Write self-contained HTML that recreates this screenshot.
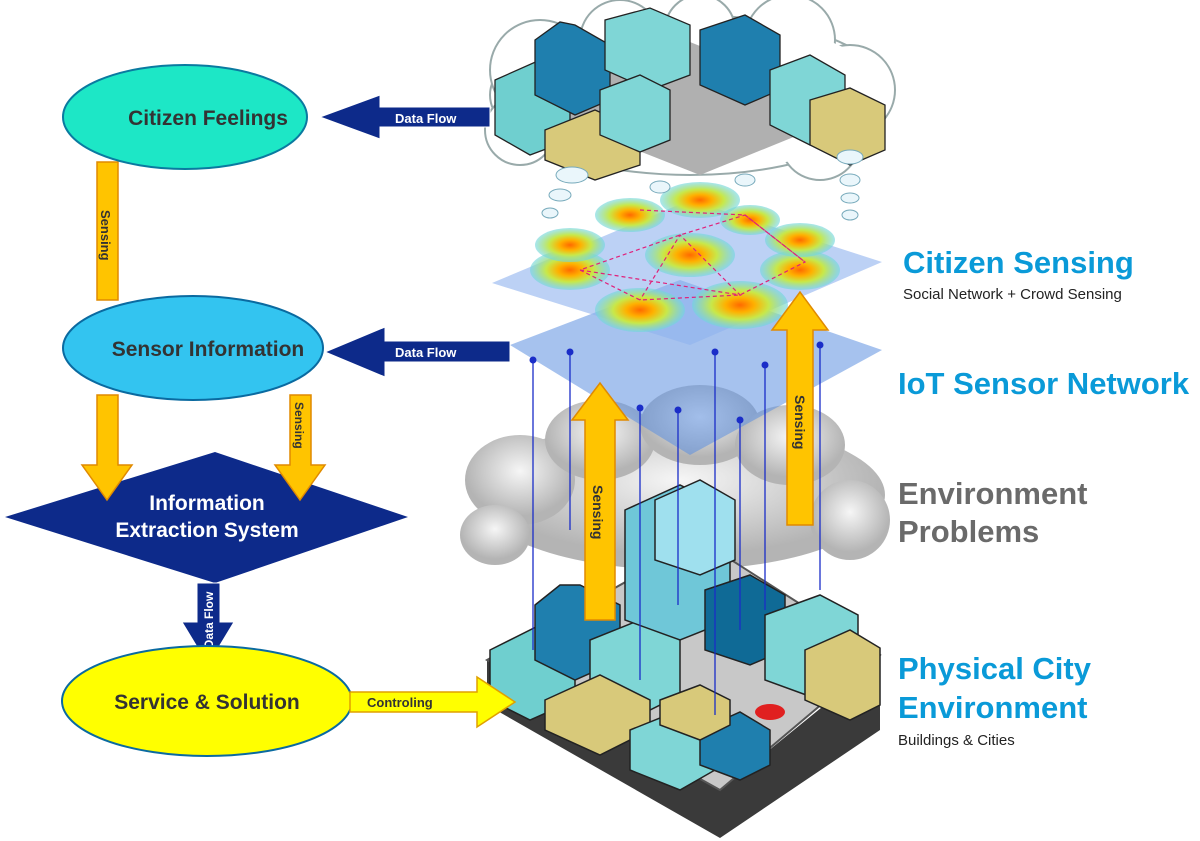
<!DOCTYPE html>
<html><head><meta charset="utf-8"><style>
html,body{margin:0;padding:0;background:#fff;}
svg{display:block;font-family:"Liberation Sans",sans-serif;}
</style></head><body>
<svg width="1200" height="841" viewBox="0 0 1200 841" xmlns="http://www.w3.org/2000/svg">
<defs>
<radialGradient id="heat"><stop offset="0" stop-color="#ff6a00"/><stop offset="0.3" stop-color="#ffb000"/><stop offset="0.6" stop-color="#c8e84a"/><stop offset="1" stop-color="#6fd6e0" stop-opacity="0.6"/></radialGradient>
<radialGradient id="smog" cx="0.5" cy="0.4"><stop offset="0" stop-color="#f6f6f6"/><stop offset="1" stop-color="#b4b4b4"/></radialGradient>
</defs>

<!-- smog cloud -->
<g fill="url(#smog)">
<ellipse cx="680" cy="495" rx="205" ry="75"/>
<ellipse cx="520" cy="480" rx="55" ry="45"/><ellipse cx="600" cy="440" rx="55" ry="40"/><ellipse cx="700" cy="425" rx="60" ry="40"/><ellipse cx="790" cy="445" rx="55" ry="40"/><ellipse cx="850" cy="520" rx="40" ry="40"/><ellipse cx="495" cy="535" rx="35" ry="30"/>
</g>

<!-- bottom city base -->
<polygon points="487,660 487,705 720,838 880,730 880,660 720,790" fill="#3a3a3a"/>
<polygon points="487,660 700,540 880,655 720,790" fill="#c8c8c8" stroke="#555" stroke-width="2"/>
<!-- buildings -->
<g stroke="#222" stroke-width="1.5">
<polygon points="490,650 540,625 575,645 575,700 530,720 490,700" fill="#6fcfcf"/>
<polygon points="535,605 560,585 580,585 620,605 620,660 575,680 535,660" fill="#1f7fae"/>
<polygon points="590,640 640,620 680,640 680,695 640,715 590,695" fill="#7fd6d6"/>
<polygon points="545,700 600,675 650,700 650,730 600,755 545,730" fill="#d8c97a"/>
<polygon points="625,510 680,485 730,510 730,620 680,640 625,620" fill="#6fc7d8"/>
<polygon points="655,500 700,480 735,500 735,560 700,575 655,560" fill="#9fe0ee"/>
<polygon points="705,590 750,575 785,595 785,650 750,665 705,650" fill="#0f6a96"/>
<polygon points="765,615 820,595 858,615 858,680 820,700 765,680" fill="#7fd6d6"/>
<polygon points="805,650 850,630 880,648 880,705 850,720 805,700" fill="#d8c97a"/>
<polygon points="630,730 680,710 715,730 715,770 680,790 630,770" fill="#7fd6d6"/>
<polygon points="700,730 740,712 770,730 770,765 740,780 700,765" fill="#1f7fae"/>
<polygon points="660,700 700,685 730,700 730,725 700,740 660,725" fill="#d8c97a"/>
</g>
<ellipse cx="770" cy="712" rx="15" ry="8" fill="#e02020"/>

<!-- IoT plane -->
<polygon points="510,345 680,280 882,350 690,455" fill="#5c8fe0" fill-opacity="0.55"/>
<!-- citizen plane -->
<polygon points="492,283 690,200 882,262 690,345" fill="#8fb3ee" fill-opacity="0.6"/>

<!-- heat spots -->
<g>
<ellipse cx="640" cy="310" rx="45" ry="22" fill="url(#heat)"/>
<ellipse cx="740" cy="305" rx="48" ry="24" fill="url(#heat)"/>
<ellipse cx="570" cy="270" rx="40" ry="20" fill="url(#heat)"/>
<ellipse cx="690" cy="255" rx="45" ry="22" fill="url(#heat)"/>
<ellipse cx="800" cy="270" rx="40" ry="20" fill="url(#heat)"/>
<ellipse cx="800" cy="240" rx="35" ry="17" fill="url(#heat)"/>
<ellipse cx="570" cy="245" rx="35" ry="17" fill="url(#heat)"/>
<ellipse cx="630" cy="215" rx="35" ry="17" fill="url(#heat)"/>
<ellipse cx="700" cy="200" rx="40" ry="18" fill="url(#heat)"/>
<ellipse cx="750" cy="220" rx="30" ry="15" fill="url(#heat)"/>
</g>
<g stroke="#e0207a" stroke-width="1.2" stroke-dasharray="4,3" fill="none">
<polyline points="580,270 640,300 740,295 805,262 745,215 680,235 580,270"/>
<polyline points="580,270 740,295 680,235 640,300"/><polyline points="640,210 745,215 805,262"/>
</g>

<!-- vertical sensor lines -->
<g stroke="#1a2dc8" stroke-width="1.3">
<line x1="533" y1="360" x2="533" y2="650"/><line x1="570" y1="352" x2="570" y2="530"/>
<line x1="640" y1="408" x2="640" y2="680"/><line x1="678" y1="410" x2="678" y2="605"/>
<line x1="715" y1="352" x2="715" y2="715"/><line x1="765" y1="365" x2="765" y2="610"/>
<line x1="820" y1="345" x2="820" y2="590"/><line x1="740" y1="420" x2="740" y2="630"/>
</g>
<g fill="#1a2dc8">
<circle cx="533" cy="360" r="3.5"/><circle cx="570" cy="352" r="3.5"/><circle cx="640" cy="408" r="3.5"/><circle cx="678" cy="410" r="3.5"/><circle cx="715" cy="352" r="3.5"/><circle cx="765" cy="365" r="3.5"/><circle cx="820" cy="345" r="3.5"/><circle cx="740" cy="420" r="3.5"/>
</g>

<!-- top cloud city -->
<g fill="#fff" stroke="#9aa" stroke-width="2">
<ellipse cx="690" cy="95" rx="200" ry="80"/>
<circle cx="540" cy="70" r="50"/><circle cx="620" cy="40" r="40"/><circle cx="700" cy="30" r="35"/><circle cx="790" cy="40" r="45"/><circle cx="850" cy="90" r="45"/><circle cx="820" cy="140" r="40"/><circle cx="520" cy="130" r="35"/>
</g>
<ellipse cx="690" cy="95" rx="195" ry="77" fill="#fff"/>
<polygon points="510,100 660,30 860,110 700,175" fill="#b0b0b0"/>
<g stroke="#222" stroke-width="1.3">
<polygon points="495,80 540,60 570,80 570,140 530,155 495,135" fill="#6fcfcf"/>
<polygon points="535,40 560,22 575,25 610,45 610,100 575,115 535,95" fill="#1f7fae"/>
<polygon points="605,20 650,8 690,25 690,75 650,90 605,70" fill="#7fd6d6"/>
<polygon points="700,30 745,15 780,35 780,90 745,105 700,85" fill="#1f7fae"/>
<polygon points="770,70 810,55 845,75 845,130 810,145 770,125" fill="#7fd6d6"/>
<polygon points="810,100 850,88 885,105 885,150 850,165 810,145" fill="#d8c97a"/>
<polygon points="545,130 595,110 640,130 640,165 595,180 545,160" fill="#d8c97a"/>
<polygon points="600,90 640,75 670,90 670,140 640,152 600,135" fill="#7fd6d6"/>
</g>
<g fill="#eaf6fb" stroke="#7ab" stroke-width="1">
<ellipse cx="572" cy="175" rx="16" ry="8"/><ellipse cx="560" cy="195" rx="11" ry="6"/><ellipse cx="550" cy="213" rx="8" ry="5"/>
<ellipse cx="850" cy="157" rx="13" ry="7"/><ellipse cx="850" cy="180" rx="10" ry="6"/><ellipse cx="850" cy="198" rx="9" ry="5"/><ellipse cx="850" cy="215" rx="8" ry="5"/>
<ellipse cx="660" cy="187" rx="10" ry="6"/><ellipse cx="745" cy="180" rx="10" ry="6"/>
</g>

<!-- big yellow sensing arrows right -->
<polygon points="585,620 585,420 572,420 600,383 628,420 615,420 615,620" fill="#ffc400" stroke="#e08a00" stroke-width="1.5"/>
<text transform="translate(593,485) rotate(90)" font-size="14" font-weight="bold" fill="#333">Sensing</text>
<polygon points="787,525 787,330 772,330 800,292 828,330 813,330 813,525" fill="#ffc400" stroke="#e08a00" stroke-width="1.5"/>
<text transform="translate(795,395) rotate(90)" font-size="14" font-weight="bold" fill="#333">Sensing</text>

<!-- left flow -->
<polygon points="97,162 118,162 118,300 97,300" fill="#ffc400" stroke="#e08a00" stroke-width="1.5"/>
<text transform="translate(101,210) rotate(90)" font-size="13" font-weight="bold" fill="#333">Sensing</text>

<ellipse cx="185" cy="117" rx="122" ry="52" fill="#1de7c6" stroke="#0a7aa0" stroke-width="2"/>
<text x="208" y="125" font-size="21" font-weight="bold" fill="#333" text-anchor="middle">Citizen Feelings</text>

<ellipse cx="193" cy="348" rx="130" ry="52" fill="#33c4f0" stroke="#0a6aa0" stroke-width="2"/>
<text x="208" y="356" font-size="21" font-weight="bold" fill="#333" text-anchor="middle">Sensor Information</text>

<polygon points="5,517 215,452 408,517 215,583" fill="#0d2a8a"/>
<polygon points="97,395 118,395 118,465 132,465 107,500 82,465 97,465" fill="#ffc400" stroke="#e08a00" stroke-width="1.5"/>
<polygon points="290,395 311,395 311,465 325,465 300,500 275,465 290,465" fill="#ffc400" stroke="#e08a00" stroke-width="1.5"/>
<text transform="translate(295,402) rotate(90)" font-size="12" font-weight="bold" fill="#333">Sensing</text>
<text x="207" y="510" font-size="21" font-weight="bold" fill="#fff" text-anchor="middle">Information</text>
<text x="207" y="537" font-size="21" font-weight="bold" fill="#fff" text-anchor="middle">Extraction System</text>

<polygon points="197,583 220,583 220,622 234,622 208,665 182,622 197,622" fill="#0d2a8a" stroke="#fff" stroke-width="1"/>
<text transform="translate(213,620) rotate(-90)" font-size="12" font-weight="bold" fill="#fff" text-anchor="middle">Data Flow</text>

<ellipse cx="207" cy="701" rx="145" ry="55" fill="#ffff00" stroke="#0a6aa0" stroke-width="2"/>
<text x="207" y="709" font-size="21" font-weight="bold" fill="#333" text-anchor="middle">Service &amp; Solution</text>

<!-- Data flow horizontal -->
<polygon points="490,107 380,107 380,95 320,117 380,139 380,127 490,127" fill="#0d2a8a" stroke="#fff" stroke-width="1"/>
<text x="395" y="123" font-size="13" font-weight="bold" fill="#fff">Data Flow</text>
<polygon points="510,341 385,341 385,327 325,352 385,377 385,362 510,362" fill="#0d2a8a" stroke="#fff" stroke-width="1"/>
<text x="395" y="357" font-size="13" font-weight="bold" fill="#fff">Data Flow</text>
<polygon points="350,692 477,692 477,677 515,702 477,727 477,712 350,712" fill="#ffff00" stroke="#e0a000" stroke-width="1.5"/>
<text x="367" y="707" font-size="13" font-weight="bold" fill="#333">Controling</text>

<!-- right labels -->
<text x="903" y="273" font-size="31" font-weight="bold" fill="#0a9ad8">Citizen Sensing</text>
<text x="903" y="299" font-size="15" fill="#222">Social Network + Crowd Sensing</text>
<text x="898" y="394" font-size="31" font-weight="bold" fill="#0a9ad8">IoT Sensor Network</text>
<text x="898" y="504" font-size="31" font-weight="bold" fill="#6a6a6a">Environment</text>
<text x="898" y="542" font-size="31" font-weight="bold" fill="#6a6a6a">Problems</text>
<text x="898" y="679" font-size="31" font-weight="bold" fill="#0a9ad8">Physical City</text>
<text x="898" y="718" font-size="31" font-weight="bold" fill="#0a9ad8">Environment</text>
<text x="898" y="745" font-size="15" fill="#222">Buildings &amp; Cities</text>
</svg>
</body></html>
